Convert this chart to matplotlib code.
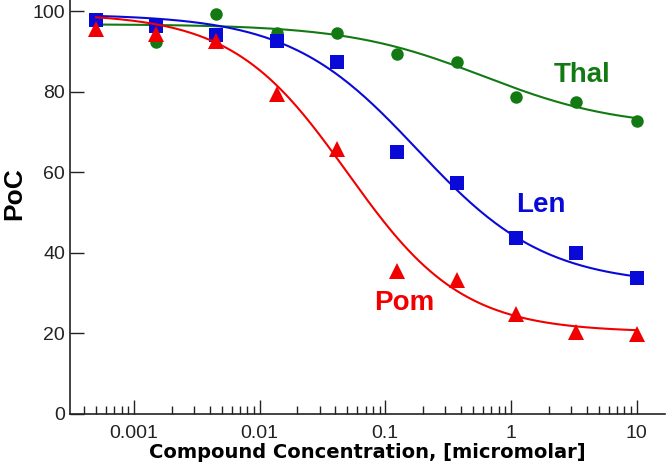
import numpy as np
import matplotlib
matplotlib.use("Agg")
import matplotlib.pyplot as plt
from matplotlib.ticker import FixedLocator, FixedFormatter, LogLocator, NullFormatter

# concentrations (micromolar)
conc = [0.0005, 0.0015, 0.0045, 0.0137, 0.041, 0.123, 0.37, 1.1, 3.3, 10]

thal = [97.9, 92.3, 99.2, 94.6, 94.6, 89.3, 87.4, 78.6, 77.4, 72.7]
len_ = [97.9, 96.4, 94.2, 92.5, 87.4, 65.0, 57.4, 43.8, 39.9, 33.8]
pom = [95.6, 94.4, 92.7, 79.5, 65.8, 35.5, 33.2, 24.8, 20.4, 19.8]

# 4-parameter logistic fit parameters: top, bottom, ec50, hill
thal_fit = (96.8, 71.0, 0.6, 0.8)
len_fit = (99.3, 32.0, 0.18, 0.85)
pom_fit = (99.5, 20.3, 0.05, 0.95)

green = '#137a13'
blue = '#0a0ad8'
red = '#f20000'

plt.rcParams['font.family'] = 'Liberation Sans'

fig = plt.figure(figsize=(6.66, 4.68), dpi=100)
ax = fig.add_axes([0.105, 0.1154, 0.893, 0.8846])

xs = np.logspace(np.log10(0.0005), np.log10(10), 200)

def logistic(x, p):
    top, bottom, ec50, hill = p
    return bottom + (top - bottom) / (1 + (x / ec50) ** hill)

for vals, p, col, mk, ms in [(thal, thal_fit, green, 'o', 9),
                              (len_, len_fit, blue, 's', 9.5),
                              (pom, pom_fit, red, '^', 11)]:
    ax.plot(xs, logistic(xs, p), color=col, lw=1.5)
    ax.plot(conc, vals, linestyle='none', marker=mk, color=col,
            markersize=ms, markeredgewidth=0)

ax.text(2.2, 84.2, 'Thal', color=green, fontsize=20, fontweight='bold',
        ha='left', va='center')
ax.text(1.1, 51.8, 'Len', color=blue, fontsize=20, fontweight='bold',
        ha='left', va='center')
ax.text(0.081, 27.6, 'Pom', color=red, fontsize=20, fontweight='bold',
        ha='left', va='center')

ax.set_xscale('log')
ax.set_xlim(0.00031, 16.7)
ax.set_ylim(0, 102.8)

ax.xaxis.set_major_locator(FixedLocator([0.001, 0.01, 0.1, 1, 10]))
ax.xaxis.set_major_formatter(FixedFormatter(['0.001', '0.01', '0.1', '1', '10']))
ax.xaxis.set_minor_locator(LogLocator(base=10, subs=np.arange(2, 10), numticks=20))
ax.xaxis.set_minor_formatter(NullFormatter())
ax.set_yticks([0, 20, 40, 60, 80, 100])

ax.tick_params(axis='both', which='major', direction='in', length=10, width=1,
               labelsize=14, color='#222222', labelcolor='#222222')
ax.tick_params(axis='x', which='minor', direction='in', length=6, width=1,
               color='#222222')
ax.tick_params(axis='x', pad=8)

for s in ['top', 'right']:
    ax.spines[s].set_visible(False)
for s in ['left', 'bottom']:
    ax.spines[s].set_linewidth(1.2)
    ax.spines[s].set_color('#222222')

ax.set_xlabel('Compound Concentration, [micromolar]', fontsize=14,
              fontweight='bold', family='DejaVu Sans', labelpad=1)
ax.set_ylabel('PoC', fontsize=19, fontweight='bold')
ax.yaxis.set_label_coords(-0.074, 0.533)

fig.savefig('out.png', dpi=100)
